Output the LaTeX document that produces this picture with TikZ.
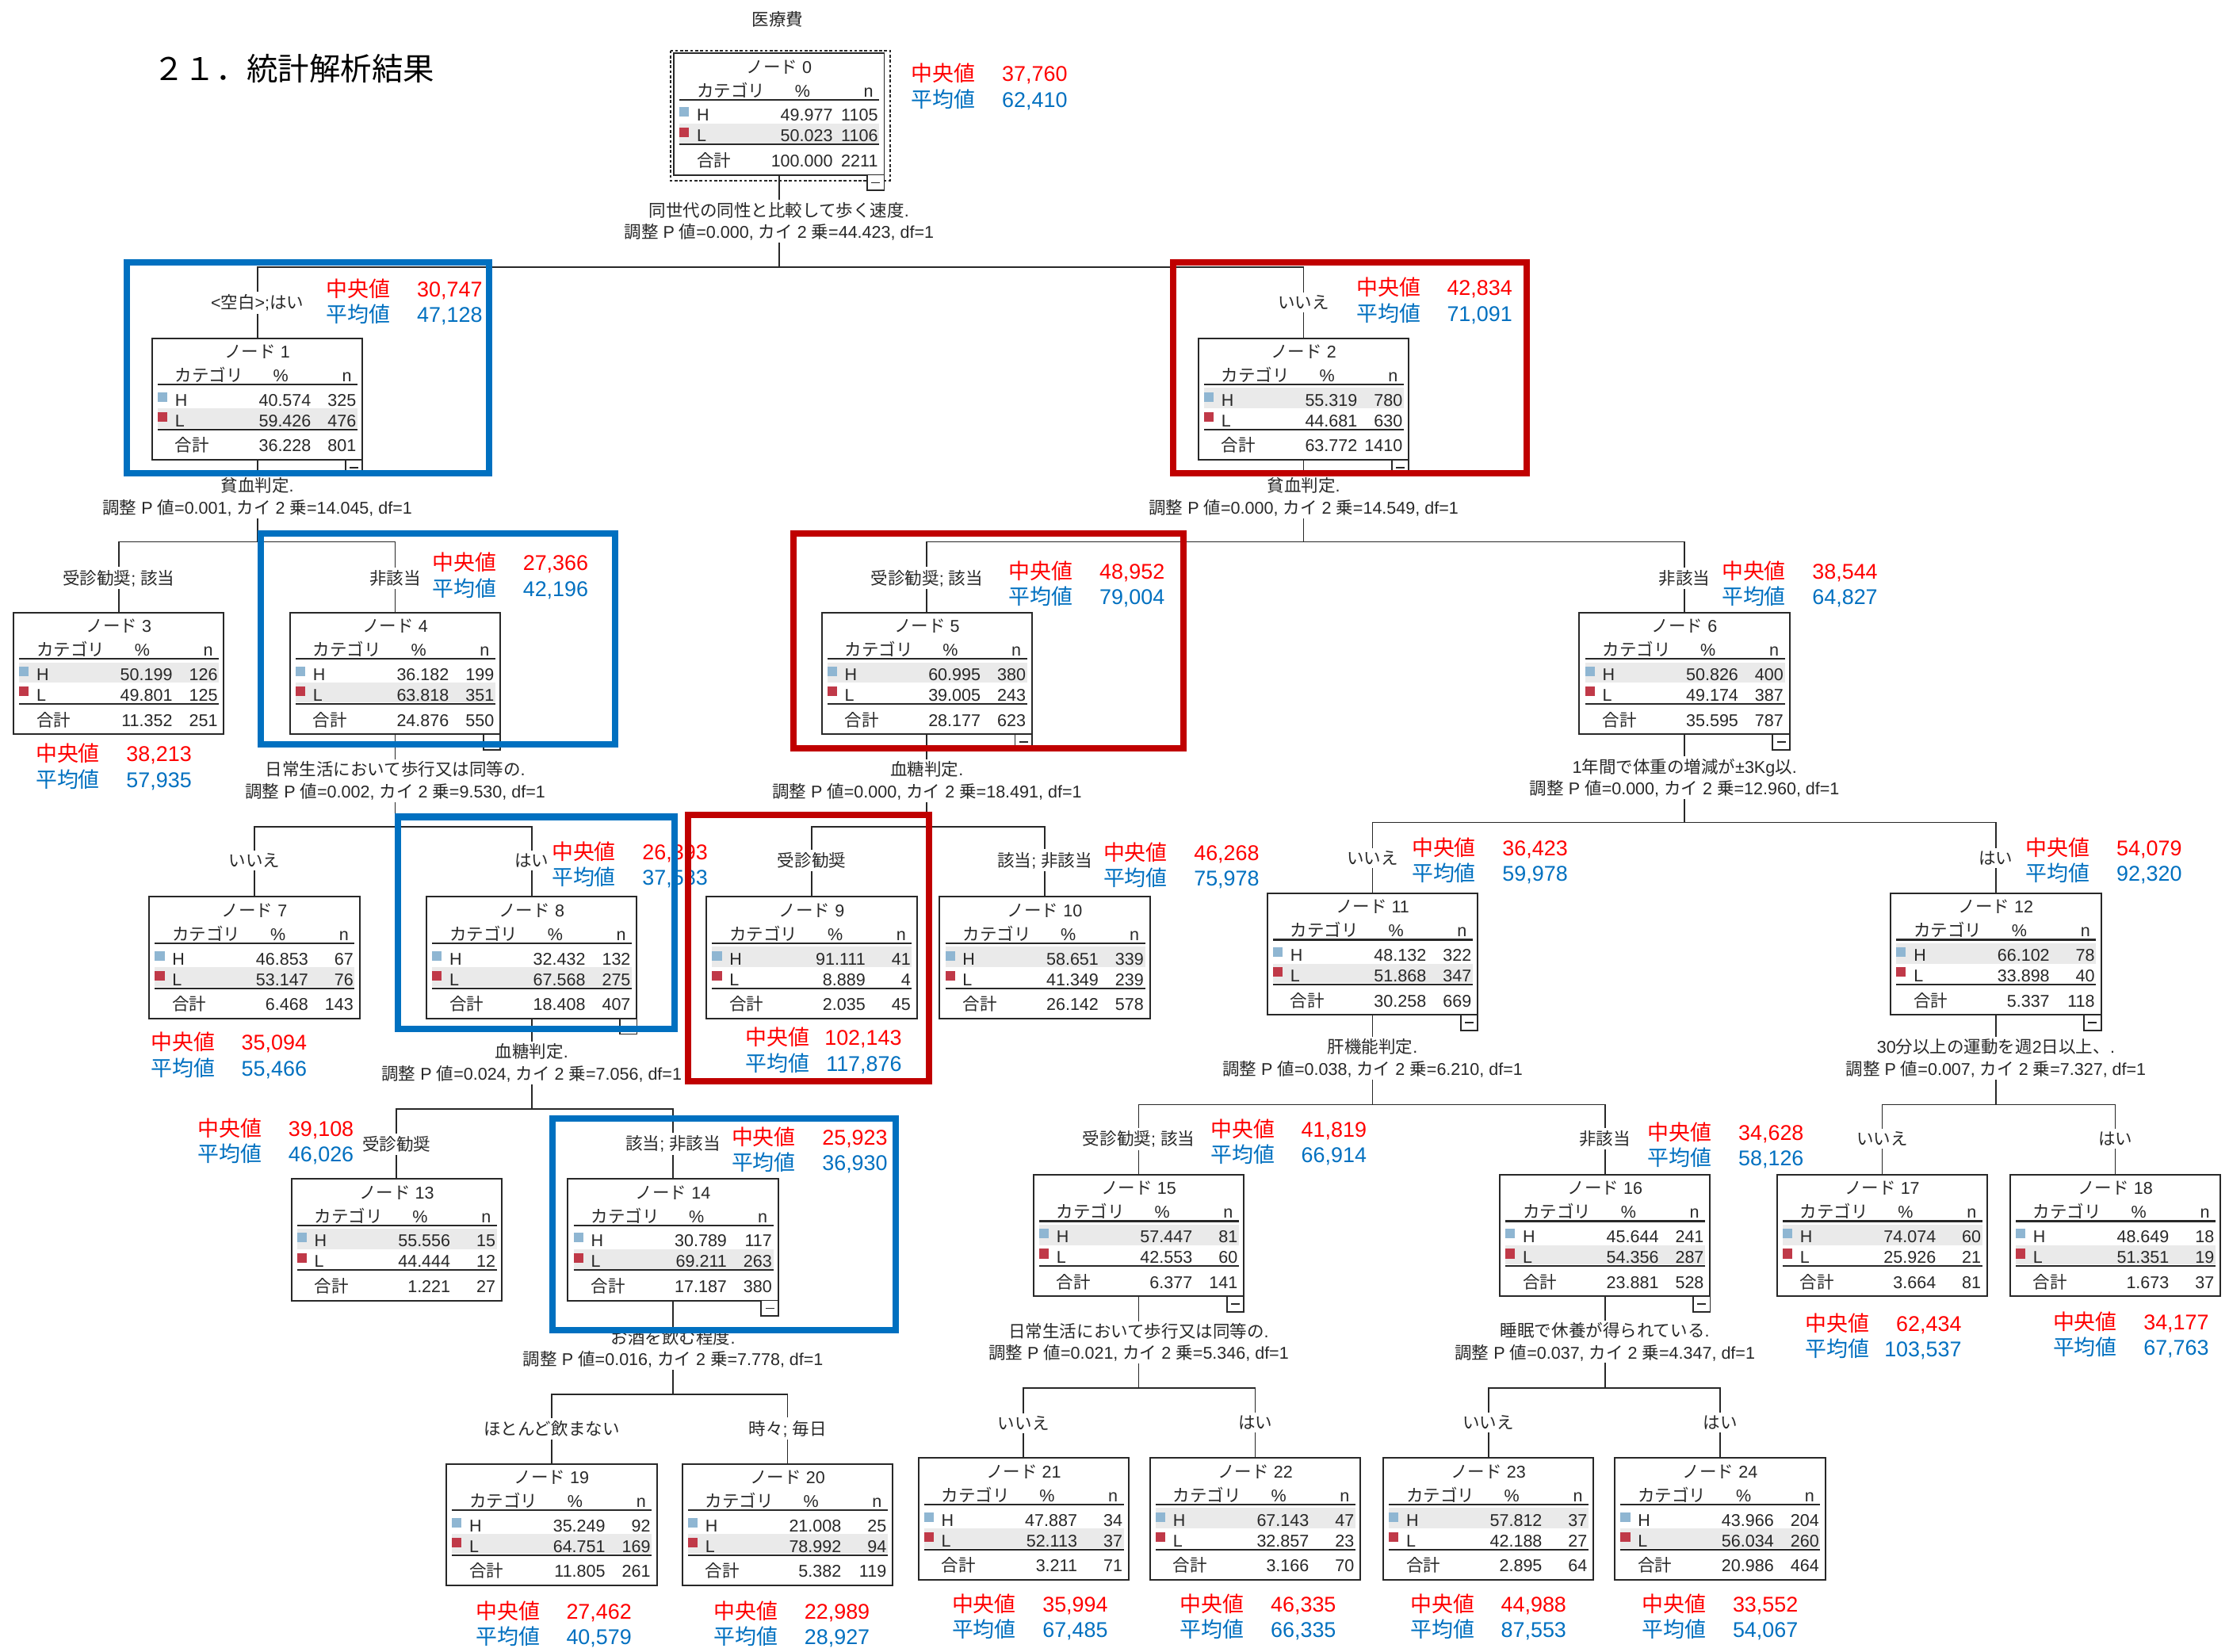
\documentclass[tikz,border=0pt]{standalone}
\usepackage{fontspec}
\setmainfont{Liberation Sans}
\newfontfamily\jp{Noto Sans CJK JP}
\usetikzlibrary{calc}
\definecolor{medred}{RGB}{255,0,0}
\definecolor{meanblue}{RGB}{0,112,192}
\definecolor{hlblue}{RGB}{0,112,192}
\definecolor{hlred}{RGB}{192,0,0}
\definecolor{hsq}{RGB}{143,182,210}
\definecolor{lsq}{RGB}{192,57,72}
\definecolor{rowgray}{RGB}{234,234,234}
\definecolor{ink}{RGB}{40,40,40}
% automatic switch to the CJK font for Japanese characters
\chardef\CJKcls=10
\newcount\cjkcnt
\newcommand\setcjkrange[2]{\cjkcnt=#1\relax
  \loop\XeTeXcharclass\cjkcnt=\CJKcls\relax
  \ifnum\cjkcnt<#2\relax\advance\cjkcnt by 1\relax\repeat}
\setcjkrange{"3000}{"30FF}
\setcjkrange{"4E00}{"9FFF}
\setcjkrange{"FF00}{"FFEF}
\XeTeXinterchartoks 0 \CJKcls = {\begingroup\jp}
\XeTeXinterchartoks 4095 \CJKcls = {\begingroup\jp}
\XeTeXinterchartoks \CJKcls 0 = {\endgroup}
\XeTeXinterchartoks \CJKcls 4095 = {\endgroup}
\XeTeXinterchartokenstate=1
\pgfdeclarelayer{bg}
\pgfsetlayers{bg,main}
\tikzset{
  tbox/.style={draw=ink, line width=1.1pt, minimum width=148pt, minimum height=85.5pt,
    anchor=north west, inner sep=0pt, outer sep=0pt},
  tt/.style={inner sep=0pt, text=ink, font=\fontsize{12}{14}\selectfont},
  conn/.style={draw=ink, line width=1pt},
  rulel/.style={draw=ink, line width=1.2pt},
  split/.style={fill=white, inner sep=1.5pt, align=center, text=ink, font=\fontsize{12}{15.3}\selectfont},
  blab/.style={fill=white, inner sep=2pt, text=ink, font=\fontsize{12}{14}\selectfont},
  medt/.style={inner sep=0pt, text=medred, font=\fontsize{15}{17}\selectfont},
  meant/.style={inner sep=0pt, text=meanblue, font=\fontsize{15}{17}\selectfont},
  hlb/.style={draw=hlblue, line width=4.5pt},
  hlr/.style={draw=hlred, line width=4.5pt},
}
\def\tdata#1/#2/#3/#4/#5/#6\relax{\def\dHp{#1}\def\dHn{#2}\def\dLp{#3}\def\dLn{#4}\def\dTp{#5}\def\dTn{#6}}
\newcommand\tnode[6]{%
 \tdata#6\relax
 \begin{scope}[shift={(#2,#3)}]
  \fill[white] (0,0) rectangle (148,85.5);
  \ifx#5H\fill[rowgray] (4,35) rectangle (144.5,49.4);\else\fill[rowgray] (4,49.4) rectangle (144.5,63.2);\fi
  \node[tbox] (#1) at (0,0) {};
  \node[tt,anchor=base] (#1-a) at (74,13.8) {ノード #4};
  \node[tt,anchor=base west] (#1-b) at (16,30.6) {カテゴリ};
  \node[tt,anchor=base] (#1-c) at (90.5,30.6) {\%};
  \node[tt,anchor=base east] (#1-d) at (140.5,30.6) {n};
  \draw[rulel] (4,32.6) -- (144.5,32.6);
  \fill[hsq] (4,38) rectangle (10.75,44.7);
  \node[tt,anchor=base west] (#1-e) at (16,47.8) {H};
  \node[tt,anchor=base east] (#1-f) at (112,47.8) {\dHp};
  \node[tt,anchor=base east] (#1-g) at (143.75,47.8) {\dHn};
  \fill[lsq] (4,52.1) rectangle (10.75,58.8);
  \node[tt,anchor=base west] (#1-h) at (16,62.2) {L};
  \node[tt,anchor=base east] (#1-i) at (112,62.2) {\dLp};
  \node[tt,anchor=base east] (#1-j) at (143.75,62.2) {\dLn};
  \draw[rulel] (4,64.2) -- (144.5,64.2);
  \node[tt,anchor=base west] (#1-k) at (16,79.9) {合計};
  \node[tt,anchor=base east] (#1-l) at (112,79.9) {\dTp};
  \node[tt,anchor=base east] (#1-m) at (143.75,79.9) {\dTn};
 \end{scope}}
\newcommand\minusbx[1]{%
 \draw[ink,line width=1pt,fill=white] (#1.south east) rectangle ++(-12,11);
 \draw[ink,line width=1pt] ($(#1.south east)+(-9,5.5)$) -- ++(6,0);}
\newcommand\stats[5]{%
 \node[medt,anchor=base west] (#1-ml) at (#2,#3+5.5) {中央値};
 \node[medt,anchor=base east] (#1-mv) at (#2+110,#3+5.5) {#4};
 \node[meant,anchor=base west] (#1-al) at (#2,#3+23.5) {平均値};
 \node[meant,anchor=base east] (#1-av) at (#2+110,#3+23.5) {#5};}
\newcommand\pval[2]{調整 P 値=#1, カイ 2 乗=#2, df=1}
\begin{document}
\begin{tikzpicture}[x=1pt,y=-1pt]
\useasboundingbox (0,0) rectangle (1568,1162);
% ---------- tree nodes ----------
\tnode{n0}{474}{37.5}{0}{L}{49.977/1105/50.023/1106/100.000/2211}
\tnode{n1}{107}{237.9}{1}{L}{40.574/325/59.426/476/36.228/801}
\tnode{n2}{843}{237.9}{2}{H}{55.319/780/44.681/630/63.772/1410}
\tnode{n3}{9.5}{430.9}{3}{H}{50.199/126/49.801/125/11.352/251}
\tnode{n4}{204}{430.9}{4}{L}{36.182/199/63.818/351/24.876/550}
\tnode{n5}{578}{430.9}{5}{H}{60.995/380/39.005/243/28.177/623}
\tnode{n6}{1111}{430.9}{6}{H}{50.826/400/49.174/387/35.595/787}
\tnode{n7}{105}{630.9}{7}{L}{46.853/67/53.147/76/6.468/143}
\tnode{n8}{300}{630.9}{8}{L}{32.432/132/67.568/275/18.408/407}
\tnode{n9}{497}{630.9}{9}{H}{91.111/41/8.889/4/2.035/45}
\tnode{n10}{661}{630.9}{10}{H}{58.651/339/41.349/239/26.142/578}
\tnode{n11}{891.5}{628.4}{11}{L}{48.132/322/51.868/347/30.258/669}
\tnode{n12}{1330}{628.4}{12}{H}{66.102/78/33.898/40/5.337/118}
\tnode{n13}{205}{829.3}{13}{H}{55.556/15/44.444/12/1.221/27}
\tnode{n14}{399.5}{829.3}{14}{L}{30.789/117/69.211/263/17.187/380}
\tnode{n15}{727}{826.4}{15}{H}{57.447/81/42.553/60/6.377/141}
\tnode{n16}{1055}{826.4}{16}{L}{45.644/241/54.356/287/23.881/528}
\tnode{n17}{1250}{826.4}{17}{H}{74.074/60/25.926/21/3.664/81}
\tnode{n18}{1414}{826.4}{18}{L}{48.649/18/51.351/19/1.673/37}
\tnode{n19}{314}{1029.7}{19}{L}{35.249/92/64.751/169/11.805/261}
\tnode{n20}{480}{1029.7}{20}{L}{21.008/25/78.992/94/5.382/119}
\tnode{n21}{646}{1025.7}{21}{L}{47.887/34/52.113/37/3.211/71}
\tnode{n22}{809}{1025.7}{22}{H}{67.143/47/32.857/23/3.166/70}
\tnode{n23}{973}{1025.7}{23}{H}{57.812/37/42.188/27/2.895/64}
\tnode{n24}{1136}{1025.7}{24}{L}{43.966/204/56.034/260/20.986/464}
% dashed frame of root
\draw[ink,line width=1.1pt,dash pattern=on 2pt off 1.5pt] ($(n0.north west)+(-2.5,-2)$) rectangle ($(n0.south east)+(4,4)$);
% minus boxes
\foreach \m in {n0,n1,n2,n4,n5,n6,n8,n11,n12,n14,n15,n16} {\minusbx{\m}}
% ---------- connectors ----------
\begin{pgfonlayer}{bg}
\fill[white] (0,0) rectangle (1568,1162);
\foreach \p/\d/\a/\b in {n0/65.1/n1/n2, n1/57.7/n3/n4, n2/57.7/n5/n6, n4/65.1/n7/n8, n5/65.1/n9/n10,
  n6/62.1/n11/n12, n8/63.8/n13/n14, n11/63.1/n15/n16, n12/63.1/n17/n18, n14/66/n19/n20,
  n15/64.5/n21/n22, n16/64.5/n23/n24}
 {\draw[conn] (\p.south) -- ++(0,\d) coordinate (j-\p) -| (\a.north);
  \draw[conn] (j-\p) -| (\b.north);}
\end{pgfonlayer}
% ---------- titles ----------
\node[anchor=base west,inner sep=0pt,font=\fontsize{22}{26}\selectfont] (title) at (107.5,56.4) {２１．統計解析結果};
\node[tt] (dep) at (547,13.8) {医療費};
% ---------- split texts ----------
\node[split] (sp0) at (548,155.7) {同世代の同性と比較して歩く速度.\\\pval{0.000}{44.423}};
\node[split] (sp1) at (181,349.5) {貧血判定.\\\pval{0.001}{14.045}};
\node[split] (sp2) at (917,349.5) {貧血判定.\\\pval{0.000}{14.549}};
\node[split] (sp4) at (278,549.1) {日常生活において歩行又は同等の.\\\pval{0.002}{9.530}};
\node[split] (sp5) at (652,549.1) {血糖判定.\\\pval{0.000}{18.491}};
\node[split] (sp6) at (1185,547.1) {1年間で体重の増減が±3Kg以.\\\pval{0.000}{12.960}};
\node[split] (sp8) at (374,747.7) {血糖判定.\\\pval{0.024}{7.056}};
\node[split] (sp11) at (965.5,744.4) {肝機能判定.\\\pval{0.038}{6.210}};
\node[split] (sp12) at (1404,744.4) {30分以上の運動を週2日以上、.\\\pval{0.007}{7.327}};
\node[split] (sp14) at (473.5,948.6) {お酒を飲む程度.\\\pval{0.016}{7.778}};
\node[split] (sp15) at (801,944.3) {日常生活において歩行又は同等の.\\\pval{0.021}{5.346}};
\node[split] (sp16) at (1129,943.8) {睡眠で休養が得られている.\\\pval{0.037}{4.347}};
% ---------- branch labels ----------
\node[blab] (b1) at (181,212.8) {<空白>;はい};
\node[blab] (b2) at (917,212.8) {いいえ};
\node[blab] (b3) at (83.5,406.7) {受診勧奨; 該当};
\node[blab] (b4) at (278,406.7) {非該当};
\node[blab] (b5) at (652,406.7) {受診勧奨; 該当};
\node[blab] (b6) at (1185,406.7) {非該当};
\node[blab] (b7) at (179,605.2) {いいえ};
\node[blab] (b8) at (374,605.2) {はい};
\node[blab] (b9) at (571,605.2) {受診勧奨};
\node[blab] (b10) at (735,605.2) {該当; 非該当};
\node[blab] (b11) at (965.5,603.7) {いいえ};
\node[blab] (b12) at (1404,603.7) {はい};
\node[blab] (b13) at (279,804.8) {受診勧奨};
\node[blab] (b14) at (473.5,804.8) {該当; 非該当};
\node[blab] (b15) at (801,801.1) {受診勧奨; 該当};
\node[blab] (b16) at (1129,801.1) {非該当};
\node[blab] (b17) at (1324,801.1) {いいえ};
\node[blab] (b18) at (1488,801.1) {はい};
\node[blab] (b19) at (388,1005) {ほとんど飲まない};
\node[blab] (b20) at (554,1005) {時々; 毎日};
\node[blab] (b21) at (720,1001.1) {いいえ};
\node[blab] (b22) at (883,1000.6) {はい};
\node[blab] (b23) at (1047,1000.6) {いいえ};
\node[blab] (b24) at (1210,1000.6) {はい};
% ---------- median / mean ----------
\stats{m0}{641}{51.8}{37,760}{62,410}
\stats{m1}{229.5}{203.4}{30,747}{47,128}
\stats{m2}{954}{202.4}{42,834}{71,091}
\stats{m3}{25}{530.2}{38,213}{57,935}
\stats{m4}{304}{395.9}{27,366}{42,196}
\stats{m5}{709.5}{401.8}{48,952}{79,004}
\stats{m6}{1211}{401.8}{38,544}{64,827}
\stats{m7}{106}{733.3}{35,094}{55,466}
\stats{m8}{388}{599.2}{26,393}{37,583}
\stats{m9}{524.5}{729.9}{102,143}{117,876}
\stats{m10}{776}{599.7}{46,268}{75,978}
\stats{m11}{993}{596.3}{36,423}{59,978}
\stats{m12}{1425}{596.3}{54,079}{92,320}
\stats{m13}{139}{793.8}{39,108}{46,026}
\stats{m14}{514.5}{799.7}{25,923}{36,930}
\stats{m15}{851.5}{794.2}{41,819}{66,914}
\stats{m16}{1159}{796.7}{34,628}{58,126}
\stats{m17}{1270}{931}{62,434}{103,537}
\stats{m18}{1444}{929.6}{34,177}{67,763}
\stats{m19}{334.5}{1133.5}{27,462}{40,579}
\stats{m20}{502}{1133.5}{22,989}{28,927}
\stats{m21}{669.5}{1128.4}{35,994}{67,485}
\stats{m22}{830}{1128.4}{46,335}{66,335}
\stats{m23}{992}{1128.4}{44,988}{87,553}
\stats{m24}{1155}{1128.4}{33,552}{54,067}
% ---------- highlight frames ----------
\draw[hlb] (89,184.6) rectangle (344,332.7);
\draw[hlr] (825,184.6) rectangle (1074,332.7);
\draw[hlb] (183.5,375.2) rectangle (432.5,523.7);
\draw[hlr] (558,375.2) rectangle (832.5,526.2);
\draw[hlb] (280,574.6) rectangle (474.5,723.7);
\draw[hlr] (484,573.1) rectangle (653.5,760.7);
\draw[hlb] (388.5,786.8) rectangle (630,935.9);
\end{tikzpicture}
\end{document}
